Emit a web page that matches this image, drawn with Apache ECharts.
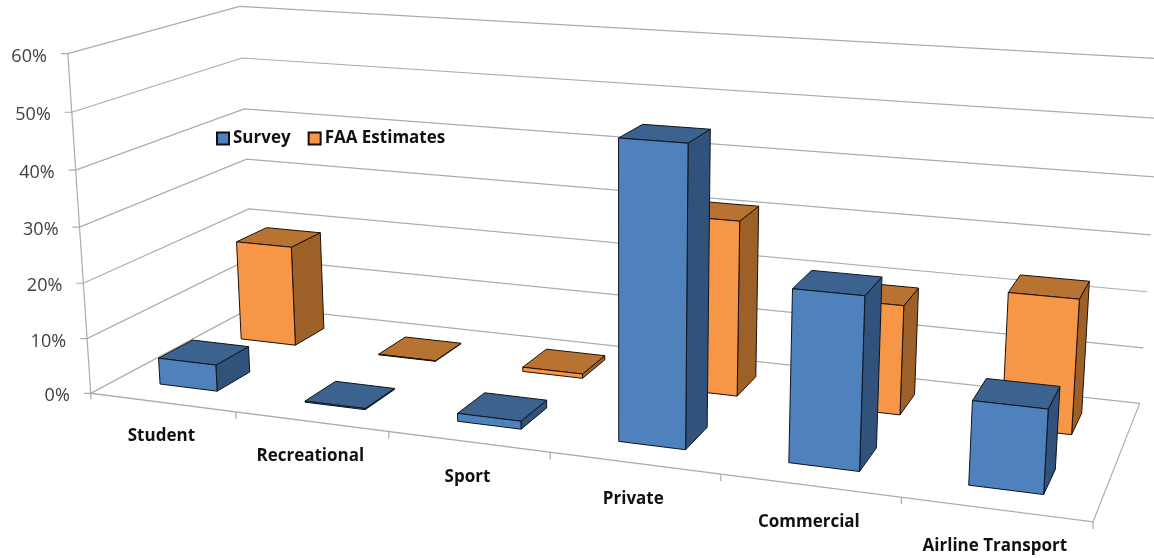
<!DOCTYPE html>
<html><head><meta charset="utf-8">
<style>html,body{margin:0;padding:0;background:#fff}#c{width:1154px;height:558px}</style>
<script src="https://cdn.jsdelivr.net/npm/echarts@6/dist/echarts.min.js"></script>
</head><body><div id="c"></div>
<script>
const categories = ['Student','Recreational','Sport','Private','Commercial','Airline Transport'];
const surveyValues = [4.8, 0.2, 1.4, 50.7, 28.8, 13.8];
const faaValues = [19, 0.1, 0.8, 31.4, 19.3, 23.3];
const yTicks = [0,10,20,30,40,50,60];
const yLabels = ['0%','10%','20%','30%','40%','50%','60%'];

// Layout only: where the 3D box's edges fall on the page (used to fit the perspective camera).
const W = 1154, H = 558;
const frontLeft = [[90,394],[87,338],[83,283],[80,227],[76,170],[72,112],[68,54]];
const backLeft  = [[254,306],[251,258],[249,209],[247,160],[245,109],[241,58],[239,6]];
const backRight = [[1140,403],[1143,348],[1147,292],[1151,235],[1154,177],[1158,118],[1163,59]];
const frontRightFloor = [1093,522];
const BAR_RATIO = 0.40, DEPTH = 0.2, Z_SURVEY = 0.15, Z_FAA = 0.65;

function fitCamera(){
  const pts=[];
  for(let k=0;k<7;k++){const y=k/6;
    pts.push([0,y,0,frontLeft[k]],[0,y,1,backLeft[k]],[1,y,1,backRight[k]]);}
  pts.push([1,0,0,frontRightFloor]);
  const n=11, A=Array.from({length:n},()=>new Array(n+1).fill(0));
  function add(r,b){for(let i=0;i<n;i++){for(let j=0;j<n;j++)A[i][j]+=r[i]*r[j];A[i][n]+=r[i]*b;}}
  pts.forEach(([x,y,z,[u,v]])=>{u/=1000;v/=1000;
    add([x,y,z,1,0,0,0,0,-u*x,-u*y,-u*z],u);
    add([0,0,0,0,x,y,z,1,-v*x,-v*y,-v*z],v);});
  for(let c=0;c<n;c++){let p=c;for(let r=c+1;r<n;r++)if(Math.abs(A[r][c])>Math.abs(A[p][c]))p=r;
    [A[c],A[p]]=[A[p],A[c]];
    for(let r=0;r<n;r++){if(r===c)continue;const f=A[r][c]/A[c][c];for(let k=c;k<=n;k++)A[r][k]-=f*A[c][k];}}
  return A.map((row,i)=>row[n]/row[i]);
}
const m = fitCamera();
function project(x,y,z){
  const w=m[8]*x+m[9]*y+m[10]*z+1;
  return [1000*(m[0]*x+m[1]*y+m[2]*z+m[3])/w, 1000*(m[4]*x+m[5]*y+m[6]*z+m[7])/w];
}
// library scale (pixel in a full-page grid) -> unit box coordinates
const unitX=px=>px/W, unitY=py=>(H-py)/H;

function barRenderer(z0,front,top,side,edge){
  return function(params,api){
    const c=api.coord([api.value(0),api.value(1)]);
    const base=api.coord([api.value(0),0]);
    const half=api.size([1,0])[0]*BAR_RATIO/2;
    const x0=unitX(c[0]-half), x1=unitX(c[0]+half);
    const y0=unitY(base[1]), y1=unitY(c[1]);
    const z1=z0+DEPTH;
    const st=f=>({fill:f,stroke:edge,lineWidth:1,lineJoin:'round'});
    return {type:'group',children:[
      {type:'polygon',shape:{points:[project(x1,y0,z0),project(x1,y0,z1),project(x1,y1,z1),project(x1,y1,z0)]},style:st(side)},
      {type:'polygon',shape:{points:[project(x0,y1,z0),project(x1,y1,z0),project(x1,y1,z1),project(x0,y1,z1)]},style:st(top)},
      {type:'polygon',shape:{points:[project(x0,y0,z0),project(x1,y0,z0),project(x1,y1,z0),project(x0,y1,z0)]},style:st(front)}
    ]};
  };
}
const LINE='#ababab';
const chart=echarts.init(document.getElementById('c'),null,{renderer:'canvas'});
chart.setOption({
  animation:false,
  backgroundColor:'#fff',
  legend:{data:['Survey','FAA Estimates'],left:211,top:125,icon:'rect',itemWidth:12,itemHeight:12,itemGap:17,
    selectedMode:false,
    textStyle:{fontFamily:'Open Sans',fontWeight:'bold',fontSize:17,color:'#111',padding:[0,0,0,-1]}},
  grid:{left:0,right:0,top:0,bottom:0},
  xAxis:{type:'category',data:categories,show:false},
  yAxis:{type:'value',min:0,max:60,interval:10,show:false},
  tooltip:{show:false},
  series:[
    {type:'custom',name:'walls',z:1,silent:true,data:yTicks.map((t,i)=>[0,t,i]),
     renderItem(params,api){
       const y=unitY(api.coord([0,api.value(1)])[1]);
       const a=project(0,y,0),b=project(0,y,1),c=project(1,y,1);
       return {type:'group',children:[
         {type:'polyline',shape:{points:[[a[0]-7,a[1]],a,b,c]},style:{stroke:LINE,lineWidth:1.2,fill:null}},
         {type:'text',style:{text:yLabels[api.value(2)],x:a[0]-21,y:a[1]+3,textAlign:'right',textVerticalAlign:'middle',
           font:'18px "Open Sans"',fill:'#404040'}}
       ]};
     }},
    {type:'custom',name:'floor',z:1,silent:true,data:categories.map((c,i)=>[i,0]),
     renderItem(params,api){
       const idx=api.value(0);
       const px=api.coord([idx,0])[0], half=api.size([1,0])[0]/2;
       const t=project(unitX(px+half),0,0), l=project(unitX(px),0,0);
       const kids=[
         {type:'line',shape:{x1:t[0],y1:t[1],x2:t[0],y2:t[1]+7},style:{stroke:LINE,lineWidth:1.2}},
         {type:'text',style:{text:categories[idx],x:l[0]-1,y:l[1]+34+idx*0.6,textAlign:'center',textVerticalAlign:'middle',
           font:'bold 17px "Open Sans"',fill:'#111'}}
       ];
       if(idx===0){
         const a=project(0,0,0),b=project(1,0,0),c=project(1,0,1);
         kids.push({type:'polyline',shape:{points:[[a[0],a[1]+6],a,b,c]},style:{stroke:LINE,lineWidth:1.2,fill:null}});
         const top=project(0,1,0);
         kids.push({type:'line',shape:{x1:a[0],y1:a[1],x2:top[0],y2:top[1]},style:{stroke:LINE,lineWidth:1.2}});
       }
       return {type:'group',children:kids};
     }},
    {type:'custom',name:'FAA Estimates',z:2,silent:true,data:categories.map((c,i)=>[i,faaValues[i]]),
     itemStyle:{color:'#F79646',borderColor:'#111',borderWidth:1},
     renderItem:barRenderer(Z_FAA,'#F79646','#B87232','#9E6029','#1c1209')},
    {type:'custom',name:'Survey',z:3,silent:true,data:categories.map((c,i)=>[i,surveyValues[i]]),
     itemStyle:{color:'#4F81BD',borderColor:'#111',borderWidth:1},
     renderItem:barRenderer(Z_SURVEY,'#4F81BD','#3C628F','#30527B','#0c1520')}
  ]
});
</script></body></html>
